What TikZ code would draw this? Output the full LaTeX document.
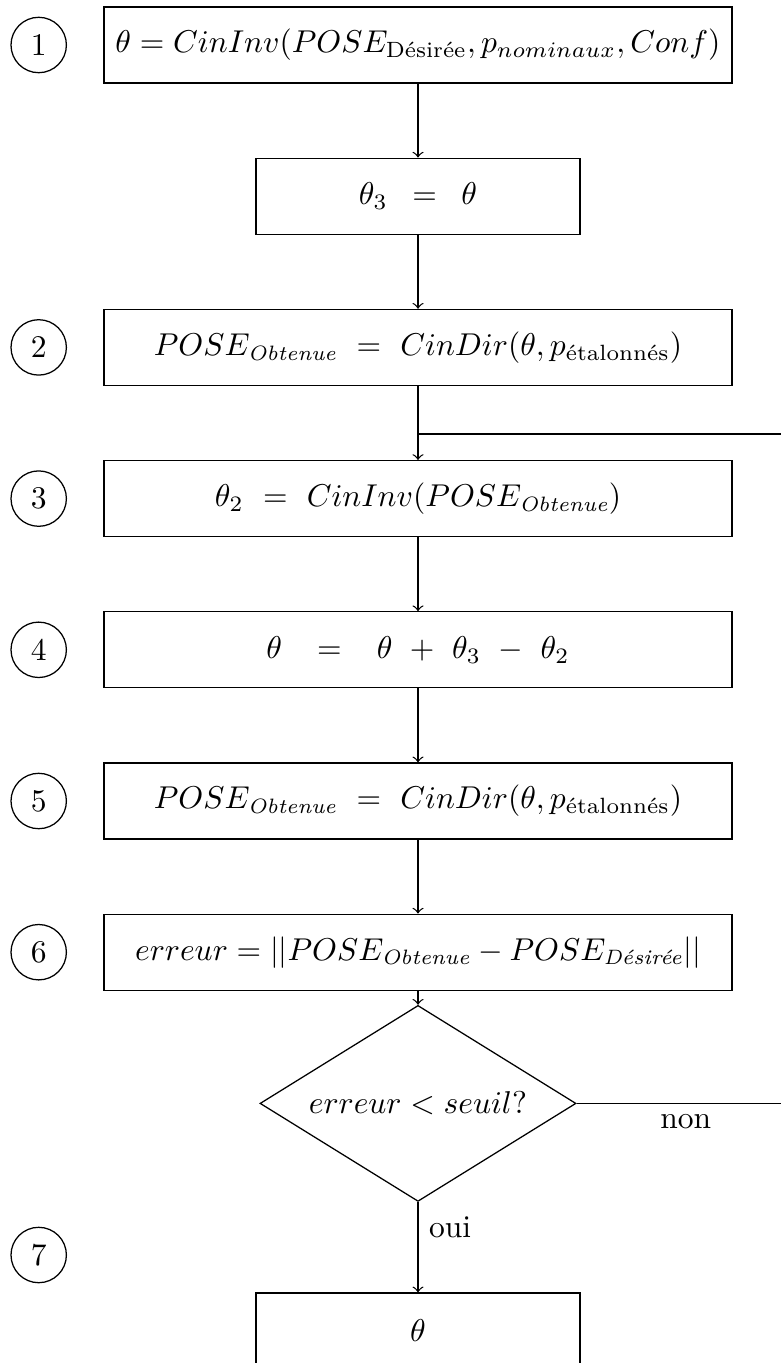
\documentclass[tikz,border=0pt]{standalone}
\usepackage{amsmath}
\usepackage{fontspec}
\usetikzlibrary{shapes.geometric}
\newdimen\px
\px=0.317pt
% small italic subscripts
\newcommand{\subit}[1]{\text{\fontsize{6.6pt}{7.5pt}\selectfont\itshape #1}}
\tikzset{
  stepnum/.style={draw, circle, inner sep=0pt, minimum size=55.4*\px},
  procbox/.style={draw, rectangle, inner sep=0pt, minimum width=628*\px, minimum height=76*\px},
  smallbox/.style={procbox, minimum width=324*\px},
  testnode/.style={draw, diamond, aspect=1.61, inner sep=0pt, minimum width=316*\px, minimum height=196*\px},
  flow/.style={->},
}
\begin{document}
\begin{tikzpicture}[x=\px, y=-\px]
  \clip (0,0) rectangle (781,1363);

  % main column of the algorithm
  \node[procbox]  (n1)  at (418,45)     {$\theta = CinInv(POSE_{\text{Désirée}}, p_{nominaux}, Conf)$};
  \node[smallbox] (nt3) at (418,196.2)  {$\theta_3\ \,=\ \,\theta$};
  \node[procbox]  (n2)  at (418,347.4)  {$POSE_{\subit{Obtenue}}\ =\ CinDir(\theta, p_{\text{étalonnés}})$};
  \node[procbox]  (n3)  at (418,498.6)  {$\theta_2\ =\ CinInv(POSE_{\subit{Obtenue}})$};
  \node[procbox]  (n4)  at (418,649.8)  {$\theta\ \ \,=\ \ \,\theta\ +\ \theta_3\ -\ \theta_2$};
  \node[procbox]  (n5)  at (418,801)    {$POSE_{\subit{Obtenue}}\ =\ CinDir(\theta, p_{\text{étalonnés}})$};
  \node[procbox]  (n6)  at (418,952.2)  {$erreur = ||POSE_{\subit{Obtenue}} - POSE_{\subit{Désirée}}||$};
  \node[testnode] (dec) at (418,1103.4) {$erreur < seuil?$};
  \node[smallbox] (nend) at (418,1331)  {$\theta$};

  % step numbers
  \node[stepnum] (c1) at (38.7,45)     {1};
  \node[stepnum] (c2) at (38.7,347.4)  {2};
  \node[stepnum] (c3) at (38.7,498.6)  {3};
  \node[stepnum] (c4) at (38.7,649.8)  {4};
  \node[stepnum] (c5) at (38.7,801)    {5};
  \node[stepnum] (c6) at (38.7,952.2)  {6};
  \node[stepnum] (c7) at (38.7,1255)   {7};

  % forward flow
  \draw[flow] (n1) -- (nt3);
  \draw[flow] (nt3) -- (n2);
  \draw[flow] (n2) -- (n3);
  \draw[flow] (n3) -- (n4);
  \draw[flow] (n4) -- (n5);
  \draw[flow] (n5) -- (n6);
  \draw[flow] (n6) -- (dec);
  \draw[flow] (dec) -- node[right, pos=0.28] {oui} (nend);

  % loop back when the error is too large
  \coordinate (loopR) at (795,1103.4);
  \coordinate (loopT) at (795,434);
  \coordinate (join)  at (418,434);
  \draw (dec.east) -- node[below] {non} (loopR) -- (loopT) -- (join);
\end{tikzpicture}
\end{document}
